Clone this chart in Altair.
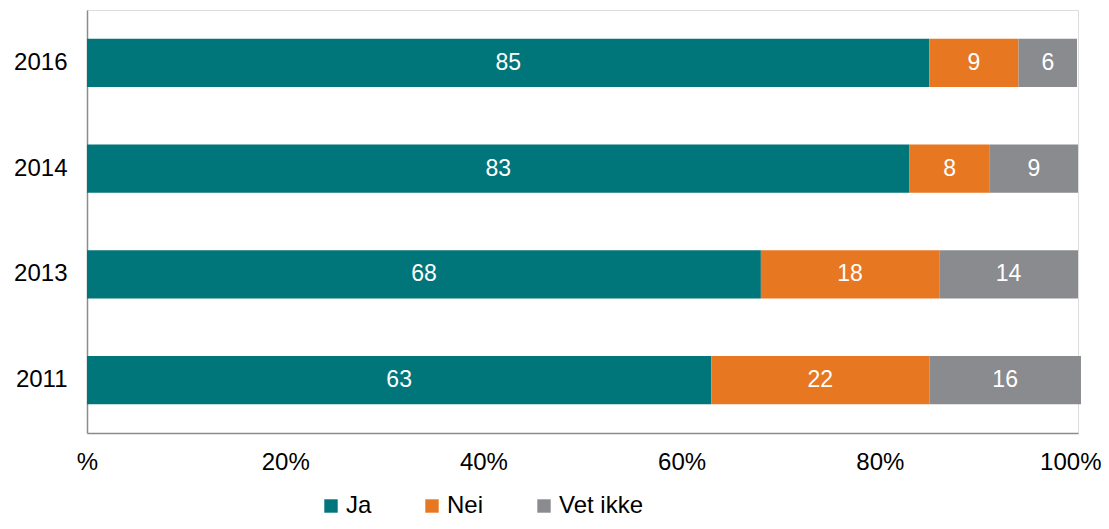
import altair as alt
import pandas as pd

years = ["2016", "2014", "2013", "2011"]
# segment lengths
ja = [85, 83, 68, 63]
nei = [9, 8.1, 18, 22]
vet_ikke = [5.9, 8.9, 14, 15.3]
# printed labels
ja_lbl = [85, 83, 68, 63]
nei_lbl = [9, 8, 18, 22]
vet_ikke_lbl = [6, 9, 14, 16]
categories = ["Ja", "Nei", "Vet ikke"]
colors = ["#00757A", "#E87722", "#898B8E"]

rows = []
for i, y in enumerate(years):
    for k, (cat, vals, lbls) in enumerate(zip(categories, [ja, nei, vet_ikke],
                                               [ja_lbl, nei_lbl, vet_ikke_lbl])):
        rows.append({"year": y, "cat": cat, "order": k, "value": vals[i], "label": lbls[i]})
df = pd.DataFrame(rows)

FONT = "Liberation Sans, Arial, sans-serif"

base = alt.Chart(df).transform_stack(
    stack="value", groupby=["year"], as_=["x0", "x1"],
    sort=[alt.SortField("order", order="ascending")]
).transform_calculate(mid="(datum.x0 + datum.x1) / 2")

yenc = alt.Y("year:N", sort=years, title=None,
             scale=alt.Scale(paddingInner=0.545, paddingOuter=0.2725),
             axis=alt.Axis(ticks=False, labelFontSize=24, labelFont=FONT,
                           labelColor="#000000", labelPadding=20,
                           domainColor="#8c8c8c", domainWidth=1.5))

bars = base.mark_bar(opacity=1).encode(
    x=alt.X("x0:Q", scale=alt.Scale(domain=[0, 100], nice=False, clamp=False),
            title=None,
            axis=alt.Axis(values=[0, 20, 40, 60, 80, 100], ticks=False, grid=False,
                          labelFlush=False,
                          labelAlign=alt.condition("datum.value == 100",
                                                   alt.value("right"), alt.value("center")),
                          labelOffset=alt.condition("datum.value == 100",
                                                    alt.value(23), alt.value(0)),
                          labelExpr="datum.value == 0 ? '%' : datum.value + '%'",
                          labelFontSize=24, labelFont=FONT, labelColor="#000000",
                          labelPadding=17, domainColor="#8c8c8c", domainWidth=1.5)),
    x2="x1:Q",
    y=yenc,
    color=alt.Color("cat:N", sort=categories,
                    scale=alt.Scale(domain=categories, range=colors),
                    legend=alt.Legend(title=None, orient="none", direction="horizontal",
                                      legendX=232, legendY=484,
                                      symbolType="square", symbolSize=180,
                                      symbolStrokeWidth=0, symbolOpacity=1,
                                      labelFontSize=24, labelFont=FONT,
                                      labelColor="#000000", columnPadding=48,
                                      labelOffset=3)),
)

labels = base.mark_text(color="white", fontSize=23, font=FONT).encode(
    x="mid:Q",
    y=alt.Y("year:N", sort=years),
    text="label:Q",
)

chart = (bars + labels).properties(
    width=991, height=423,
    autosize=alt.AutoSizeParams(type="none"),
    padding={"left": 79, "top": 2, "right": 23, "bottom": 87},
).configure_view(stroke=None).configure(background="white")

chart.save("out.html", embed_options={"renderer": "svg", "actions": False})
